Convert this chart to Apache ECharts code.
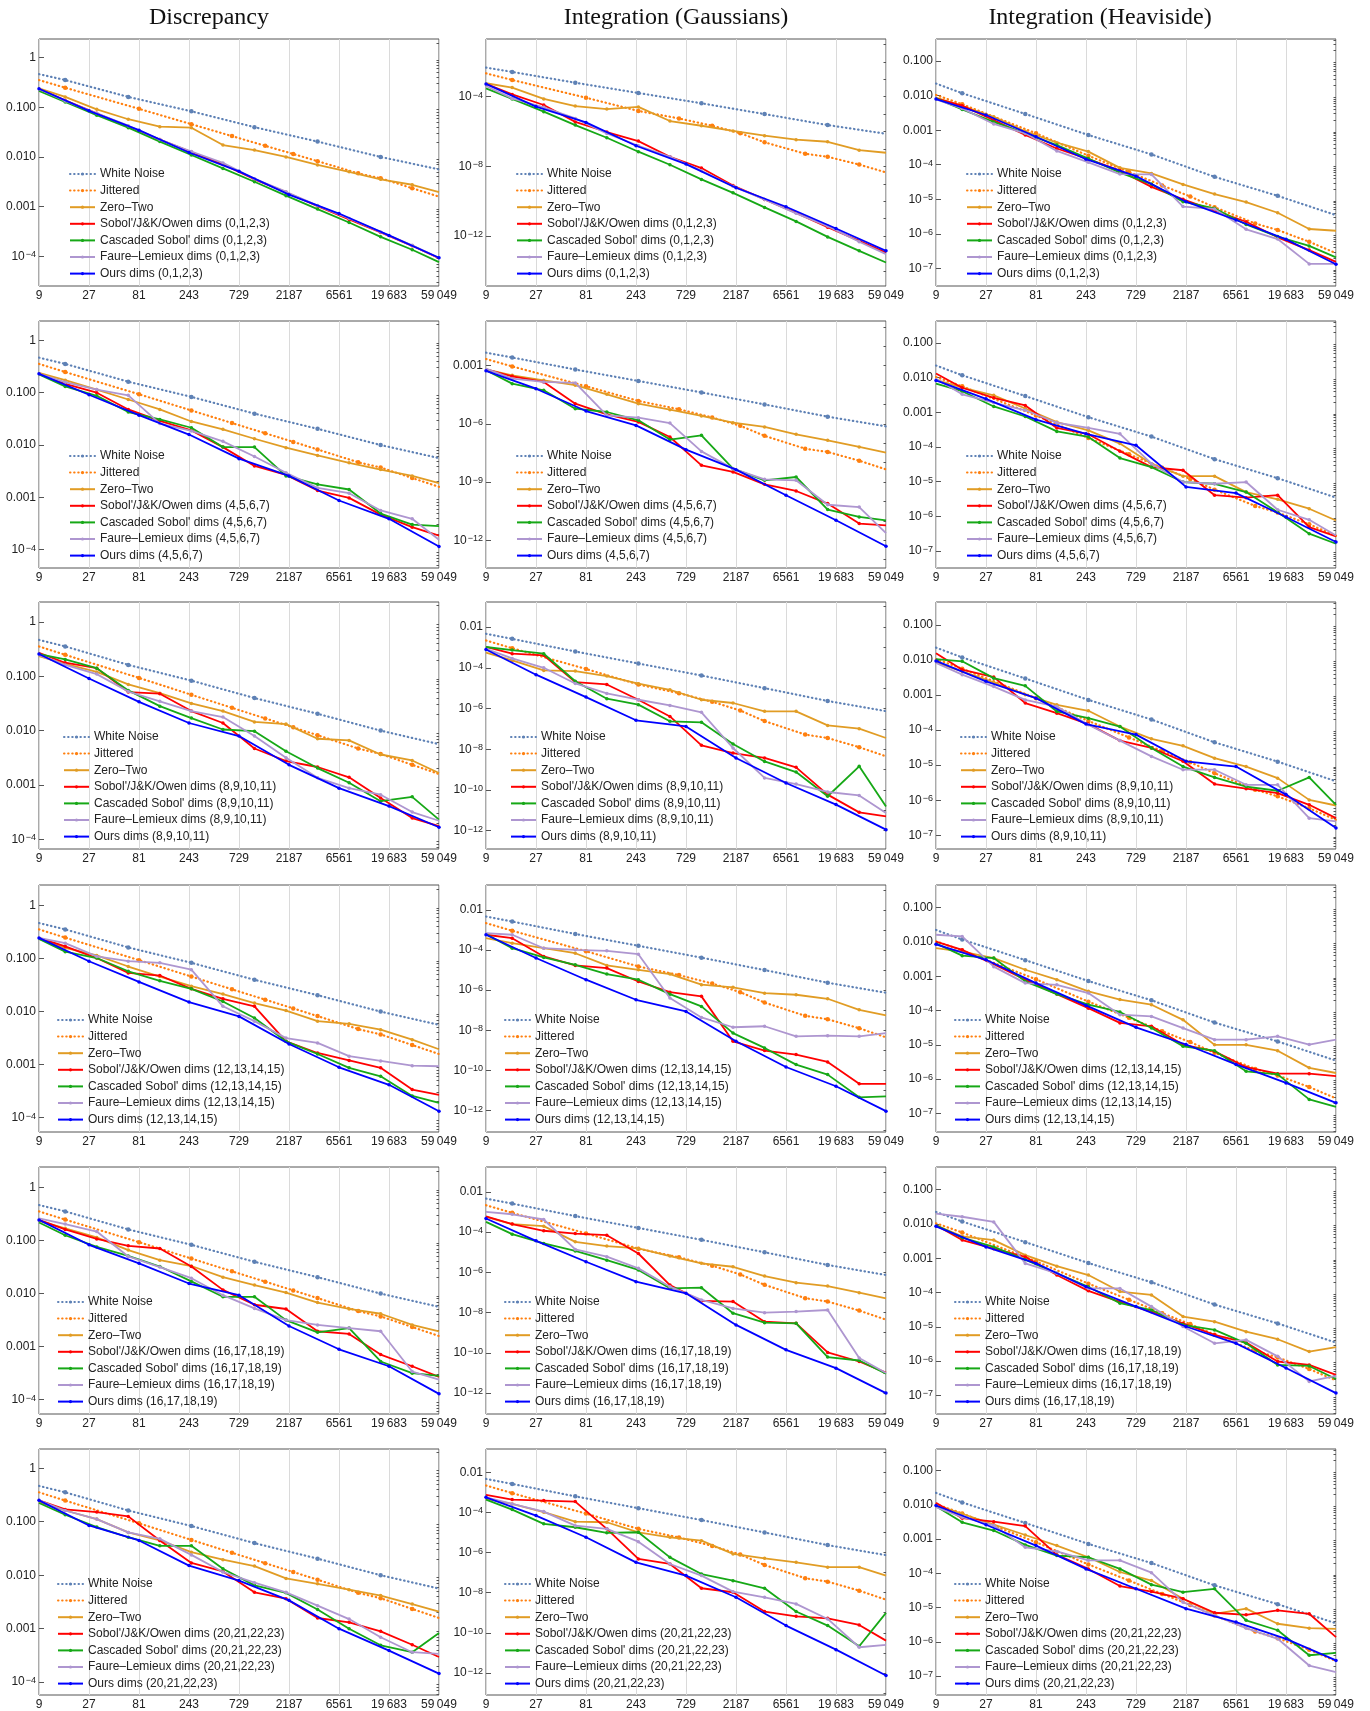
<!DOCTYPE html>
<html>
<head>
<meta charset="utf-8">
<title>Discrepancy and integration error</title>
<script src="https://cdn.jsdelivr.net/npm/echarts@6/dist/echarts.min.js"></script>
<style>
html, body { margin: 0; padding: 0; background: #fff; }
#chart { width: 1370px; height: 1711px; }
</style>
</head>
<body>
<div id="chart"></div>
<script>
// sample counts (first/last entry of the non base-3 sets sit on the plot edges)
const nWhite = [9, 16, 64, 256, 1024, 4096, 16384, 59049]
const nJitter = [9, 16, 81, 256, 625, 1296, 2401, 4096, 10000, 16384, 32768, 59049]
const nBase2 = [9, 16, 32, 64, 128, 256, 512, 1024, 2048, 4096, 8192, 16384, 32768, 59049]
const nBase3 = [9, 27, 81, 243, 729, 2187, 6561, 19683, 59049]

const dims = ['0,1,2,3', '4,5,6,7', '8,9,10,11', '12,13,14,15', '16,17,18,19', '20,21,22,23']

// all values below are log10 of the error

// --- Discrepancy
const discWhite = [-0.33, -0.45, -0.79, -1.08, -1.40, -1.69, -2.00, -2.25]
const discJitter = [-0.45, -0.605, -1.03, -1.34, -1.58, -1.775, -1.94, -2.085, -2.33, -2.43, -2.63, -2.8]
const discZeroTwo = [
  [-0.62, -0.79, -1.04, -1.24, -1.39, -1.41, -1.76, -1.86, -2.00, -2.16, -2.30, -2.45, -2.56, -2.71],
  [-0.62, -0.76, -0.94, -1.13, -1.32, -1.55, -1.70, -1.88, -2.05, -2.20, -2.34, -2.47, -2.59, -2.73],
  [-0.63, -0.77, -0.92, -1.15, -1.31, -1.50, -1.64, -1.84, -1.88, -2.15, -2.18, -2.44, -2.55, -2.78],
  [-0.63, -0.80, -0.94, -1.15, -1.34, -1.52, -1.67, -1.84, -1.98, -2.18, -2.23, -2.34, -2.53, -2.71],
  [-0.63, -0.77, -0.94, -1.18, -1.37, -1.48, -1.69, -1.84, -1.98, -2.17, -2.29, -2.38, -2.59, -2.71],
  [-0.64, -0.79, -0.95, -1.20, -1.35, -1.57, -1.71, -1.83, -2.06, -2.16, -2.27, -2.38, -2.54, -2.68]
]
const discSobol = [
  [-0.63, -0.86, -1.12, -1.39, -1.65, -1.90, -2.15, -2.45, -2.71, -2.99, -3.26, -3.52, -3.79, -4.04],
  [-0.64, -0.83, -1.00, -1.32, -1.54, -1.72, -2.04, -2.40, -2.57, -2.87, -3.01, -3.33, -3.57, -3.73],
  [-0.57, -0.75, -0.85, -1.29, -1.32, -1.64, -1.86, -2.33, -2.56, -2.67, -2.86, -3.24, -3.61, -3.76],
  [-0.61, -0.77, -0.99, -1.27, -1.32, -1.57, -1.76, -1.90, -2.56, -2.78, -2.92, -3.06, -3.47, -3.57],
  [-0.61, -0.79, -0.97, -1.10, -1.15, -1.49, -1.93, -2.21, -2.29, -2.71, -2.76, -3.15, -3.37, -3.57],
  [-0.60, -0.77, -0.82, -0.90, -1.35, -1.77, -1.93, -2.32, -2.44, -2.80, -2.88, -3.05, -3.30, -3.53]
]
const discCascaded = [
  [-0.67, -0.89, -1.16, -1.41, -1.69, -1.96, -2.23, -2.50, -2.78, -3.05, -3.32, -3.61, -3.87, -4.12],
  [-0.65, -0.88, -1.06, -1.37, -1.51, -1.67, -2.04, -2.04, -2.59, -2.75, -2.85, -3.31, -3.52, -3.55],
  [-0.59, -0.69, -0.85, -1.26, -1.55, -1.77, -1.98, -2.01, -2.38, -2.69, -2.96, -3.30, -3.22, -3.64],
  [-0.63, -0.87, -0.99, -1.24, -1.42, -1.57, -1.81, -2.12, -2.56, -2.80, -3.06, -3.22, -3.59, -3.72],
  [-0.66, -0.90, -1.12, -1.29, -1.49, -1.77, -2.06, -2.06, -2.50, -2.73, -2.65, -3.28, -3.50, -3.55],
  [-0.65, -0.87, -1.10, -1.29, -1.45, -1.45, -1.88, -2.19, -2.33, -2.64, -3.00, -3.31, -3.44, -3.08]
]
const discFaure = [
  [-0.63, -0.87, -1.12, -1.37, -1.65, -1.89, -2.12, -2.44, -2.70, -2.98, -3.24, -3.51, -3.78, -4.03],
  [-0.64, -0.80, -0.94, -1.05, -1.59, -1.73, -1.93, -2.22, -2.53, -2.82, -2.92, -3.25, -3.41, -3.81],
  [-0.61, -0.79, -0.96, -1.28, -1.46, -1.64, -1.75, -2.10, -2.50, -2.87, -3.06, -3.18, -3.50, -3.66],
  [-0.61, -0.71, -0.96, -1.05, -1.08, -1.21, -1.90, -2.18, -2.50, -2.59, -2.84, -2.93, -3.02, -3.03],
  [-0.58, -0.69, -0.83, -1.30, -1.50, -1.71, -2.03, -2.28, -2.50, -2.59, -2.65, -2.71, -3.47, -3.62],
  [-0.60, -0.79, -0.95, -1.20, -1.32, -1.62, -1.94, -2.14, -2.32, -2.57, -2.82, -3.16, -3.44, -3.47]
]
const discOurs = [
  [-0.625, -1.07, -1.46, -1.91, -2.29, -2.76, -3.14, -3.58, -4.03],
  [-0.64, -1.04, -1.43, -1.80, -2.26, -2.59, -3.06, -3.41, -3.94],
  [-0.59, -1.04, -1.47, -1.86, -2.10, -2.63, -3.06, -3.39, -3.78],
  [-0.61, -1.05, -1.44, -1.82, -2.09, -2.61, -3.05, -3.38, -3.88],
  [-0.61, -1.08, -1.43, -1.81, -2.03, -2.61, -3.05, -3.37, -3.89],
  [-0.60, -1.07, -1.35, -1.82, -2.10, -2.47, -3.00, -3.41, -3.84]
]

// --- Integration (Gaussians)
const gaussWhite = [-2.33, -2.58, -3.2, -3.79, -4.38, -5.0, -5.63, -6.13]
const gaussJitter = [-2.66, -3.04, -4.06, -4.82, -5.25, -5.67, -6.1, -6.62, -7.28, -7.45, -7.9, -8.35]
const gaussZeroTwo = [
  [-3.23, -3.48, -4.13, -4.54, -4.71, -4.59, -5.40, -5.67, -5.97, -6.24, -6.47, -6.59, -7.07, -7.22],
  [-3.19, -3.50, -3.76, -4.01, -4.48, -4.96, -5.27, -5.59, -5.94, -6.16, -6.54, -6.85, -7.19, -7.48],
  [-3.26, -3.64, -4.13, -4.16, -4.41, -4.78, -5.08, -5.57, -5.73, -6.14, -6.14, -6.83, -6.99, -7.45],
  [-3.41, -3.66, -3.91, -4.16, -4.77, -4.99, -5.20, -5.73, -5.86, -6.15, -6.23, -6.43, -6.98, -7.26],
  [-3.24, -3.60, -3.70, -4.48, -4.69, -4.81, -5.19, -5.55, -5.72, -6.18, -6.51, -6.68, -7.01, -7.29],
  [-3.33, -3.58, -3.99, -4.46, -4.49, -4.99, -5.24, -5.41, -6.07, -6.29, -6.49, -6.73, -6.73, -7.15]
]
const gaussSobol = [
  [-3.27, -3.87, -4.48, -5.45, -6.03, -6.55, -7.45, -8.10, -9.10, -9.90, -10.67, -11.50, -12.28, -12.95],
  [-3.19, -3.55, -3.84, -4.96, -5.51, -5.90, -6.68, -8.14, -8.48, -9.12, -9.46, -10.11, -11.14, -11.23],
  [-2.97, -3.31, -3.39, -4.70, -4.82, -5.57, -6.39, -7.81, -8.19, -8.43, -8.89, -10.23, -11.10, -11.30],
  [-3.24, -3.41, -4.32, -4.77, -4.90, -5.57, -6.10, -6.31, -8.55, -9.01, -9.21, -9.58, -10.67, -10.67],
  [-3.21, -3.60, -3.93, -4.07, -4.15, -5.06, -6.63, -7.42, -7.45, -8.45, -8.53, -9.98, -10.43, -10.98],
  [-3.13, -3.36, -3.41, -3.46, -4.82, -6.32, -6.57, -7.78, -7.98, -8.94, -9.18, -9.28, -9.61, -10.39]
]
const gaussCascaded = [
  [-3.52, -4.13, -4.86, -5.63, -6.36, -7.16, -7.91, -8.75, -9.52, -10.36, -11.16, -12.05, -12.85, -13.52],
  [-3.24, -3.93, -4.27, -5.22, -5.39, -5.82, -6.81, -6.59, -8.31, -8.91, -8.74, -10.42, -10.80, -10.97],
  [-2.98, -3.13, -3.31, -4.66, -5.52, -5.81, -6.63, -6.68, -7.74, -8.60, -9.12, -10.31, -8.84, -10.81],
  [-3.21, -3.91, -4.37, -4.74, -5.20, -5.48, -6.20, -6.81, -8.14, -8.88, -9.71, -10.21, -11.34, -11.29],
  [-3.49, -4.10, -4.56, -4.93, -5.39, -5.88, -6.79, -6.76, -8.03, -8.50, -8.53, -10.21, -10.38, -11.04],
  [-3.36, -3.86, -4.57, -4.74, -5.02, -4.99, -6.24, -7.07, -7.40, -7.78, -8.94, -9.64, -10.67, -9.01]
]
const gaussFaure = [
  [-3.39, -4.10, -4.61, -5.25, -6.11, -6.82, -7.45, -8.25, -9.15, -9.90, -10.70, -11.43, -12.33, -13.04],
  [-3.15, -3.67, -3.84, -3.89, -5.56, -5.68, -5.96, -7.42, -8.31, -8.86, -8.91, -10.17, -10.29, -11.63],
  [-3.07, -3.54, -4.00, -4.77, -5.26, -5.57, -5.85, -6.19, -7.94, -9.41, -9.71, -10.10, -10.27, -11.13],
  [-3.16, -3.24, -3.91, -3.99, -4.04, -4.21, -6.39, -7.36, -7.85, -7.80, -8.30, -8.27, -8.30, -8.14],
  [-2.99, -3.11, -3.37, -4.86, -5.22, -5.80, -6.71, -7.37, -7.79, -8.00, -7.95, -7.87, -10.26, -11.00],
  [-3.25, -3.58, -3.96, -4.66, -4.82, -5.46, -6.57, -7.15, -7.95, -8.23, -8.56, -9.31, -10.72, -10.60]
]
const gaussOurs = [
  [-3.27, -4.57, -5.48, -6.82, -7.87, -9.23, -10.32, -11.57, -12.85],
  [-3.27, -4.19, -5.34, -6.08, -7.33, -8.36, -9.68, -10.97, -12.31],
  [-3.10, -4.34, -5.44, -6.58, -6.88, -8.43, -9.66, -10.72, -11.95],
  [-3.24, -4.40, -5.48, -6.48, -7.06, -8.55, -9.83, -10.79, -12.03],
  [-3.32, -4.43, -5.47, -6.46, -7.04, -8.61, -9.85, -10.76, -12.00],
  [-3.25, -4.16, -5.24, -6.49, -7.15, -8.23, -9.64, -10.84, -12.13]
]

// --- Integration (Heaviside)
const heavWhite = [-1.65, -1.93, -2.53, -3.14, -3.7, -4.35, -4.9, -5.46]
const heavJitter = [-1.98, -2.25, -3.09, -3.74, -4.21, -4.6, -4.92, -5.23, -5.7, -5.89, -6.23, -6.56]
const heavZeroTwo = [
  [-2.06, -2.30, -2.61, -3.03, -3.36, -3.62, -4.09, -4.25, -4.57, -4.85, -5.08, -5.39, -5.86, -5.91],
  [-2.06, -2.29, -2.51, -2.89, -3.28, -3.52, -3.90, -4.48, -4.84, -4.84, -5.30, -5.51, -5.78, -6.12],
  [-2.07, -2.33, -2.64, -2.99, -3.28, -3.45, -3.90, -4.25, -4.45, -4.80, -5.04, -5.37, -5.99, -6.15],
  [-2.18, -2.28, -2.47, -2.81, -3.10, -3.44, -3.68, -3.83, -4.27, -5.00, -5.00, -5.17, -5.67, -5.82],
  [-2.04, -2.36, -2.47, -2.91, -3.23, -3.49, -3.97, -4.07, -4.70, -4.85, -5.14, -5.36, -5.72, -5.59],
  [-2.00, -2.26, -2.58, -2.88, -3.19, -3.53, -3.96, -4.21, -4.74, -5.18, -5.03, -5.47, -5.60, -5.62]
]
const heavSobol = [
  [-2.08, -2.29, -2.71, -3.14, -3.53, -3.84, -4.17, -4.64, -5.00, -5.33, -5.65, -6.10, -6.47, -6.81],
  [-1.88, -2.29, -2.58, -2.80, -3.45, -3.63, -4.12, -4.58, -4.67, -5.39, -5.46, -5.39, -6.31, -6.58],
  [-1.81, -2.28, -2.49, -3.23, -3.52, -3.83, -4.30, -4.51, -4.89, -5.54, -5.67, -5.80, -6.13, -6.51],
  [-1.99, -2.23, -2.65, -3.10, -3.52, -3.93, -4.36, -4.46, -4.99, -5.19, -5.65, -5.84, -5.84, -5.91],
  [-2.04, -2.47, -2.72, -2.96, -3.49, -3.95, -4.27, -4.56, -4.90, -5.23, -5.46, -6.01, -6.11, -6.40],
  [-1.94, -2.39, -2.49, -2.62, -3.46, -3.87, -4.37, -4.53, -4.74, -5.15, -5.21, -5.08, -5.18, -5.86]
]
const heavCascaded = [
  [-2.08, -2.40, -2.76, -3.09, -3.43, -3.82, -4.23, -4.56, -5.07, -5.26, -5.73, -6.08, -6.35, -6.68],
  [-2.17, -2.39, -2.83, -3.12, -3.55, -3.71, -4.32, -4.58, -5.01, -5.06, -5.30, -5.88, -6.50, -6.79],
  [-1.98, -2.04, -2.52, -2.74, -3.47, -3.66, -3.90, -4.51, -5.04, -5.35, -5.61, -5.73, -5.35, -6.13],
  [-2.04, -2.40, -2.47, -3.15, -3.52, -3.83, -4.04, -4.51, -5.04, -5.17, -5.77, -5.86, -6.59, -6.81],
  [-2.04, -2.40, -2.67, -3.04, -3.44, -3.83, -4.31, -4.51, -4.94, -5.09, -5.48, -6.11, -6.14, -6.52],
  [-2.04, -2.51, -2.75, -3.17, -3.48, -3.53, -3.87, -4.33, -4.55, -4.45, -5.37, -5.66, -6.39, -6.32]
]
const heavFaure = [
  [-2.11, -2.37, -2.82, -3.09, -3.60, -3.93, -4.27, -4.28, -5.21, -5.28, -5.87, -6.15, -6.87, -6.87],
  [-2.03, -2.48, -2.72, -2.94, -3.30, -3.45, -3.62, -4.48, -5.01, -5.06, -5.01, -5.81, -6.10, -6.55],
  [-2.09, -2.42, -2.76, -3.14, -3.33, -3.85, -4.30, -4.75, -5.13, -5.13, -5.56, -5.56, -6.51, -6.60],
  [-1.79, -1.84, -2.72, -3.20, -3.25, -3.49, -4.12, -4.17, -4.51, -4.85, -4.85, -4.75, -4.99, -4.85],
  [-1.70, -1.79, -1.94, -3.15, -3.44, -3.88, -3.88, -4.41, -4.99, -5.48, -5.38, -5.86, -6.59, -6.43],
  [-2.07, -2.36, -2.60, -3.24, -3.36, -3.62, -3.62, -3.98, -4.84, -5.23, -5.60, -5.91, -6.69, -6.88]
]
const heavOurs = [
  [-2.10, -2.56, -3.19, -3.84, -4.33, -5.07, -5.60, -6.16, -6.88],
  [-2.08, -2.61, -3.21, -3.62, -3.95, -5.15, -5.33, -6.02, -6.74],
  [-2.03, -2.61, -3.09, -3.83, -4.13, -4.89, -5.04, -5.84, -6.79],
  [-2.07, -2.52, -3.20, -3.85, -4.49, -4.99, -5.57, -6.11, -6.69],
  [-2.07, -2.67, -3.15, -3.83, -4.41, -4.99, -5.48, -6.20, -6.93],
  [-2.02, -2.58, -3.19, -3.87, -4.45, -5.03, -5.42, -5.91, -6.54]
]

// y ranges (log10) and labelled ticks per row
const discRange = [[-4.6, 0.377], [-4.35, 0.37], [-4.18, 0.368], [-4.27, 0.387], [-4.27, 0.387], [-4.24, 0.36]]
const gaussRange = [[-14.87, -0.69], [-13.43, -0.70], [-12.9, -0.77], [-13.07, -0.76], [-13.04, -0.76], [-13.1, -0.84]]
const heavRange = [[-7.51, -0.36], [-7.49, -0.365], [-7.39, -0.35], [-7.54, -0.34], [-7.54, -0.34], [-7.55, -0.37]]
const discTicks = [[0, -1, -2, -3, -4]]
const gaussTicks = [[-4, -8, -12], [-3, -6, -9, -12], [-2, -4, -6, -8, -10, -12]]
const heavTicks = [[-1, -2, -3, -4, -5, -6, -7]]

const cols = [
  { title: 'Discrepancy', white: discWhite, jitter: discJitter, zeroTwo: discZeroTwo, sobol: discSobol, cascaded: discCascaded, faure: discFaure, ours: discOurs, range: discRange, ticks: r => discTicks[0], minor: 'fine' },
  { title: 'Integration (Gaussians)', white: gaussWhite, jitter: gaussJitter, zeroTwo: gaussZeroTwo, sobol: gaussSobol, cascaded: gaussCascaded, faure: gaussFaure, ours: gaussOurs, range: gaussRange, ticks: r => gaussTicks[Math.min(r, 2)], minor: 'decade' },
  { title: 'Integration (Heaviside)', white: heavWhite, jitter: heavJitter, zeroTwo: heavZeroTwo, sobol: heavSobol, cascaded: heavCascaded, faure: heavFaure, ours: heavOurs, range: heavRange, ticks: r => heavTicks[0], minor: 'fine' }
]

const gridLeft = [39, 486, 936]
const titleX = [209, 676, 1100]
const gridTop = [39, 321, 602, 885, 1167, 1449]
const legendShift = [30, 30, 24, 18, 18, 18]

const colors = {
  white: '#5E81B5', jitter: '#FF7F0E', zeroTwo: '#E19C24',
  sobol: '#FF0000', cascaded: '#16A816', faure: '#AE96D0', ours: '#0000FF'
}

const log3 = n => Math.log(n) / Math.log(3)
const font = "'Liberation Sans', Arial, sans-serif"

function points(ns, vals, edges) {
  return ns.map((n, k) => {
    const p = { value: [log3(n), vals[k]] }
    if (edges && (k === 0 || k === ns.length - 1)) p.symbol = 'none'
    return p
  })
}

function yFormatter(ci) {
  return function (v) {
    const e = Math.round(v)
    if (ci === 1) {
      if (e === -2) return '{b|0.01}'
      if (e === -3) return '{b|0.001}'
    } else {
      if (e === 0) return '{b|1}'
      if (e === -1) return '{b|0.100}'
      if (e === -2) return '{b|0.010}'
      if (e === -3) return '{b|0.001}'
    }
    return '{b|10}{s|\u2212' + (-e) + '}'
  }
}

function minorTicks(kind, lo, hi) {
  const out = []
  for (let e = Math.floor(lo); e <= Math.ceil(hi); e++) {
    if (kind === 'decade') {
      if (e >= lo && e <= hi) out.push(e)
    } else {
      for (let k = 2; k <= 9; k++) {
        const v = e + Math.log10(k)
        if (v >= lo && v <= hi) out.push(v)
      }
    }
  }
  return out
}

const option = {
  animation: false,
  backgroundColor: '#fff',
  grid: [], xAxis: [], yAxis: [], legend: [], series: [],
  graphic: cols.map((c, ci) => ({
    type: 'text', x: titleX[ci], y: 18,
    style: { text: c.title, fill: '#111', font: "24px 'Liberation Serif', 'Times New Roman', serif", textAlign: 'center', textVerticalAlign: 'middle' }
  }))
}

dims.forEach((d, ri) => {
  cols.forEach((c, ci) => {
    const i = ri * 3 + ci
    const [lo, hi] = c.range[ri]
    option.grid.push({
      left: gridLeft[ci], top: gridTop[ri], width: 400, height: 247,
      show: true, borderColor: '#555', borderWidth: 1, backgroundColor: 'transparent'
    })
    option.xAxis.push({
      type: 'value', gridIndex: i, min: 2, max: 10, interval: 1,
      axisLine: { show: false }, axisTick: { show: false },
      splitLine: { show: true, lineStyle: { color: '#dadada', width: 1 } },
      axisLabel: {
        margin: 4, fontSize: 12, fontFamily: font, color: '#222',
        formatter: v => {
          const n = Math.round(Math.pow(3, v))
          return n >= 10000 ? String(n).replace(/(\d{3})$/, '\u2009$1') : String(n)
        }
      }
    })
    option.yAxis.push({
      type: 'value', gridIndex: i, min: lo, max: hi,
      axisLine: { show: false }, splitLine: { show: false },
      axisTick: { show: true, inside: true, length: 5, customValues: c.ticks(ri), lineStyle: { color: '#555' } },
      axisLabel: {
        margin: 3, customValues: c.ticks(ri), formatter: yFormatter(ci),
        rich: {
          b: { fontSize: 12, fontFamily: font, color: '#222', lineHeight: 12, verticalAlign: 'bottom' },
          s: { fontSize: 9, fontFamily: font, color: '#222', lineHeight: 10, verticalAlign: 'top', padding: [0, 0, 6, 1] }
        }
      }
    })
    option.yAxis.push({
      type: 'value', gridIndex: i, min: lo, max: hi,
      axisLine: { show: false }, splitLine: { show: false }, axisLabel: { show: false },
      axisTick: { show: true, inside: true, length: 2.5, customValues: minorTicks(c.minor, lo, hi), lineStyle: { color: '#555' } }
    })

    const names = ['White Noise', 'Jittered', 'Zero\u2013Two',
      "Sobol'/J&K/Owen dims (" + d + ')', "Cascaded Sobol' dims (" + d + ')',
      'Faure\u2013Lemieux dims (' + d + ')', 'Ours dims (' + d + ')']
    const lines = [
      { key: 'white', data: points(nWhite, c.white, true), dotted: true },
      { key: 'jitter', data: points(nJitter, c.jitter, true), dotted: true },
      { key: 'zeroTwo', data: points(nBase2, c.zeroTwo[ri], true) },
      { key: 'sobol', data: points(nBase2, c.sobol[ri], true) },
      { key: 'cascaded', data: points(nBase2, c.cascaded[ri], true) },
      { key: 'faure', data: points(nBase2, c.faure[ri], true) },
      { key: 'ours', data: points(nBase3, c.ours[ri], false) }
    ]
    lines.forEach((l, k) => {
      option.series.push({
        type: 'line', name: names[k], xAxisIndex: i, yAxisIndex: 2 * i,
        data: l.data, clip: true, z: 2 + k,
        symbol: 'circle', symbolSize: l.dotted ? 4.5 : 3.5,
        itemStyle: { color: colors[l.key] },
        lineStyle: l.dotted
          ? { color: colors[l.key], width: 2.2, type: [0.5, 3.6], cap: 'round' }
          : { color: colors[l.key], width: 1.8 },
        emphasis: { disabled: true }
      })
    })
    // small itemHeight keeps the marker in the legend icon tiny, like the original
    option.legend.push({
      orient: 'vertical', left: gridLeft[ci] + legendShift[ri], top: gridTop[ri] + 129,
      padding: 0, itemWidth: 25, itemHeight: 4, itemGap: 4.6, selectedMode: false,
      textStyle: { fontSize: 12, fontFamily: font, color: '#222', lineHeight: 12 },
      data: names
    })
  })
})

const chart = echarts.init(document.getElementById('chart'))
chart.setOption(option)
window.addEventListener('resize', chart.resize)
</script>
</body>
</html>
